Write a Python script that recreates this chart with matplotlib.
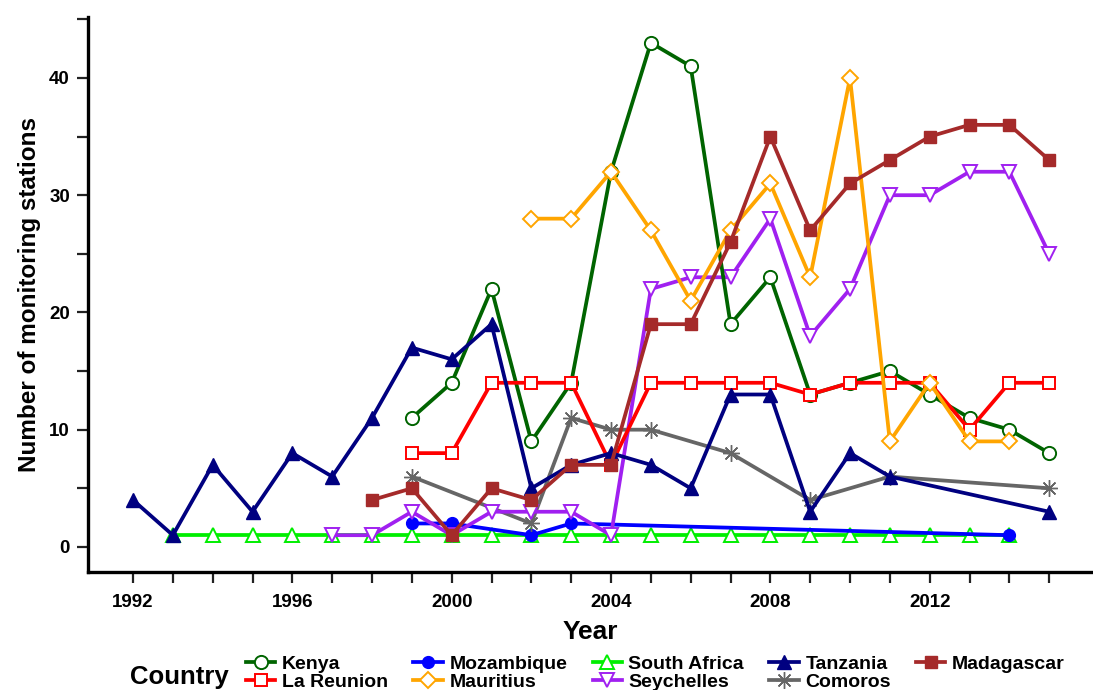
import matplotlib
matplotlib.use("Agg")
import matplotlib.pyplot as plt

plt.rcParams['font.family'] = ['Liberation Sans', 'DejaVu Sans']

# Monitoring stations per country and year
kenya_years = list(range(1999, 2016))
kenya_vals = [11, 14, 22, 9, 14, 32, 43, 41, 19, 23, 13, 14, 15, 13, 11, 10, 8]

reunion_years = list(range(1999, 2016))
reunion_vals = [8, 8, 14, 14, 14, 7, 14, 14, 14, 14, 13, 14, 14, 14, 10, 14, 14]

mozambique_years = [1999, 2000, 2002, 2003, 2014]
mozambique_vals = [2, 2, 1, 2, 1]

mauritius_years = list(range(2002, 2015))
mauritius_vals = [28, 28, 32, 27, 21, 27, 31, 23, 40, 9, 14, 9, 9]

safrica_years = list(range(1993, 2015))
safrica_vals = [1] * len(safrica_years)

seychelles_years = list(range(1997, 2016))
seychelles_vals = [1, 1, 3, 1, 3, 3, 3, 1, 22, 23, 23, 28, 18, 22, 30, 30, 32, 32, 25]

tanzania_years = list(range(1992, 2012)) + [2015]
tanzania_vals = [4, 1, 7, 3, 8, 6, 11, 17, 16, 19, 5, 7, 8, 7, 5, 13, 13, 3, 8, 6, 3]

comoros_years = [1999, 2002, 2003, 2004, 2005, 2007, 2009, 2011, 2015]
comoros_vals = [6, 2, 11, 10, 10, 8, 4, 6, 5]

madagascar_years = list(range(1998, 2016))
madagascar_vals = [4, 5, 1, 5, 4, 7, 7, 19, 19, 26, 35, 27, 31, 33, 35, 36, 36, 33]

x_tick_labels = ['1992', '1996', '2000', '2004', '2008', '2012']
y_tick_labels = ['0', '10', '20', '30', '40']

# name, years, values, colour, marker, open marker?, marker size
series = [
    ('South Africa', safrica_years, safrica_vals, '#00EE00', '^', True, 10),
    ('Mozambique', mozambique_years, mozambique_vals, '#0000FF', 'o', False, 8.5),
    ('Comoros', comoros_years, comoros_vals, '#666666', (8, 2, 0), False, 12),
    ('Seychelles', seychelles_years, seychelles_vals, '#A020F0', 'v', True, 10.5),
    ('Kenya', kenya_years, kenya_vals, '#006400', 'o', True, 9.5),
    ('La Reunion', reunion_years, reunion_vals, '#FF0000', 's', True, 8.5),
    ('Mauritius', mauritius_years, mauritius_vals, '#FFA500', 'D', True, 8.5),
    ('Tanzania', tanzania_years, tanzania_vals, '#000080', '^', False, 10.5),
    ('Madagascar', madagascar_years, madagascar_vals, '#A52A2A', 's', False, 8.5),
]

fig = plt.figure(figsize=(10.93, 6.90), dpi=100)
ax = fig.add_axes([88 / 1093, 1 - 572 / 690, (1093 - 88) / 1093, (572 - 17) / 690])

handles = {}
for name, xs, ys, col, mk, hollow, ms in series:
    kw = dict(color=col, lw=2.7, marker=mk, markersize=ms, markeredgecolor=col,
              markeredgewidth=1.4 if hollow else 1.0,
              markerfacecolor='white' if hollow else col, solid_joinstyle='miter')
    h, = ax.plot(xs, ys, label=name, clip_on=False, **kw)
    handles[name] = h

ax.set_xlim(1990.87, 2016.1)
ax.set_ylim(-2.14, 45.2)

ax.set_xticks(range(1992, 2013, 4))
ax.set_xticklabels(x_tick_labels, fontweight='bold', fontsize=13.5)
ax.set_xticks(range(1992, 2016), minor=True)
ax.set_yticks(range(0, 41, 10))
ax.set_yticklabels(y_tick_labels, fontweight='bold', fontsize=13.5)
ax.set_yticks(range(5, 46, 10), minor=True)

for s in ['top', 'right']:
    ax.spines[s].set_visible(False)
for s in ['left', 'bottom']:
    ax.spines[s].set_linewidth(2.4)
    ax.spines[s].set_color('black')

ax.tick_params(which='both', direction='out', length=8, width=1.6, color='#222222')
ax.tick_params(axis='x', which='major', pad=8)
ax.tick_params(axis='y', which='major', pad=5)

ax.set_xlabel('Year', fontweight='bold', fontsize=19, labelpad=6)
ax.set_ylabel('Number of monitoring stations', fontweight='bold', fontsize=17.5, labelpad=6)

order = ['Kenya', 'La Reunion', 'Mozambique', 'Mauritius', 'South Africa',
         'Seychelles', 'Tanzania', 'Comoros', 'Madagascar']
leg = fig.legend([handles[n] for n in order], order, ncol=5,
                 loc='upper left', bbox_to_anchor=(246 / 1093, 1 - 655 / 690),
                 frameon=False, fontsize=14, handlelength=1.5, handletextpad=0.35,
                 columnspacing=1.3, labelspacing=0.05, borderaxespad=0, borderpad=0)
for t in leg.get_texts():
    t.set_fontweight('bold')
fig.text(130 / 1093, 1 - 677 / 690, 'Country', fontweight='bold', fontsize=18.5,
         ha='left', va='center')

fig.savefig('out.png', dpi=100)
